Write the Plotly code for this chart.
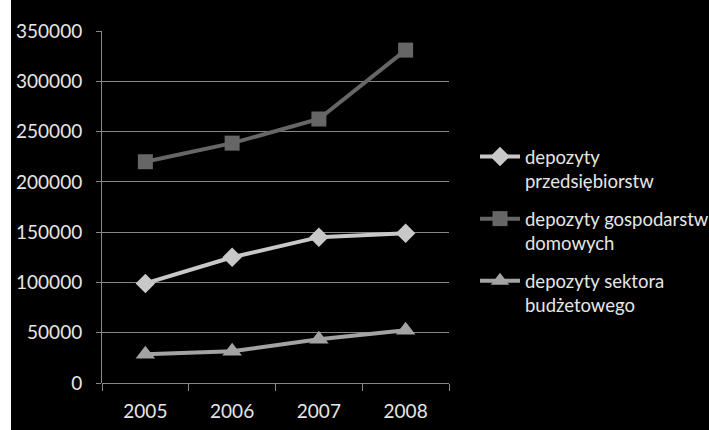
import plotly.graph_objects as go

years = ["2005", "2006", "2007", "2008"]
series_names = [
    "depozyty<br>przedsiębiorstw",
    "depozyty gospodarstw<br>domowych",
    "depozyty sektora<br>budżetowego",
]
przedsiebiorstw = [99000, 125000, 145000, 149000]
gospodarstw = [220000, 238500, 262500, 331000]
budzetowego = [28500, 31500, 43500, 52500]

colors = ["#c8c8c8", "#666666", "#a3a3a3"]
symbols = ["diamond", "square", "triangle-up"]
sizes = [15, 15, 17]
values = [przedsiebiorstw, gospodarstw, budzetowego]

FONT = "Lato"

fig = go.Figure()
for i, (name, vals, c, s, sz) in enumerate(zip(series_names, values, colors, symbols, sizes)):
    fig.add_trace(go.Scatter(
        x=years, y=vals, name=name, mode="lines+markers",
        legendgroup=f"g{i}",
        line=dict(color=c, width=4),
        marker=dict(symbol=s, size=sz, color=c),
    ))

L, R, T, B = 102, 260, 31, 47
W, H = 709, 430
pw, ph = W - L - R, H - T - B

fig.add_shape(type="rect", xref="paper", yref="paper",
              x0=(11 - L) / pw, x1=(W - L) / pw + 0.01,
              y0=-(B + 5) / ph, y1=(H - T - 11) / ph,
              fillcolor="black", line=dict(width=0), layer="below")

fig.update_layout(
    width=W, height=H,
    margin=dict(l=L, r=R, t=T, b=B, autoexpand=False),
    paper_bgcolor="white",
    plot_bgcolor="black",
    font=dict(family=FONT, size=19, color="#e6e6e6"),
    showlegend=True,
    legend=dict(
        x=(475 - L) / pw, xanchor="left",
        y=(H - B - 138) / ph, yanchor="top",
        bgcolor="rgba(0,0,0,0)",
        font=dict(family=FONT, size=18.5, color="#e6e6e6"),
        itemwidth=40, valign="top", tracegroupgap=11,
    ),
    xaxis=dict(
        type="category", range=[-0.5, 3.5],
        showgrid=False, showline=False,
        ticks="outside", tickson="boundaries", ticklen=7,
        tickcolor="#888888", tickwidth=1,
        ticklabelstandoff=15,
        tickfont=dict(family=FONT, size=19, color="#e6e6e6"),
        zeroline=False,
    ),
    yaxis=dict(
        range=[0, 350000], dtick=50000, tickformat="d",
        showgrid=True, gridcolor="#888888", gridwidth=1,
        showline=True, linecolor="#888888", linewidth=1,
        ticks="outside", ticklen=5, tickcolor="#888888",
        ticklabelstandoff=10,
        tickfont=dict(family=FONT, size=19, color="#e6e6e6"),
        zeroline=True, zerolinecolor="#888888", zerolinewidth=1,
    ),
)

fig.write_html("out.html")
